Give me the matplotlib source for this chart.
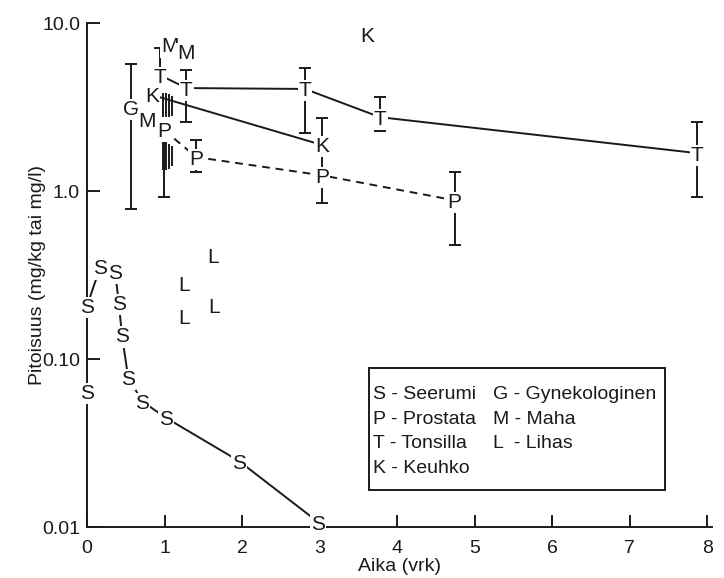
import numpy as np
import matplotlib
matplotlib.use('Agg')
import matplotlib.pyplot as plt
from matplotlib.patches import Rectangle
from matplotlib.transforms import offset_copy

plt.rcParams['font.family'] = ['Liberation Sans', 'DejaVu Sans']

# Seerumi (S)
s_x = [0, 0, 0.17, 0.36, 0.41, 0.45, 0.53, 0.71, 1.02, 1.96, 2.98]
s_y = [0.064, 0.207, 0.353, 0.334, 0.216, 0.139, 0.078, 0.056, 0.0446, 0.0247, 0.0107]

# Tonsilla (T)
t_x = [0.94, 1.28, 2.81, 3.78, 7.87]
t_y = [4.9, 4.1, 4.05, 2.75, 1.68]
t_lo = [4.9, 2.57, 2.21, 2.27, 0.92]
t_hi = [7.1, 5.25, 5.4, 3.63, 2.58]

# Keuhko (K)
k_x = [0.84, 3.03]
k_y = [3.73, 1.88]
k_lo = [3.73, 1.35]
k_hi = [3.73, 2.72]
k_single_x = [3.61]
k_single_y = [8.5]

# Prostata (P)
p_x = [0.99, 1.41, 3.03, 4.74]
p_y = [2.31, 1.59, 1.24, 0.88]
p_lo = [0.92, 1.30, 0.85, 0.48]
p_hi = [2.31, 2.01, 1.24, 1.30]

# Gynekologinen (G)
g_x = [0.57]
g_y = [3.16]
g_lo = [0.78]
g_hi = [5.7]

# Maha (M)
m_x = [0.77, 1.07, 1.28]
m_y = [2.65, 7.4, 6.8]

# Lihas (L)
l_x = [1.25, 1.25, 1.63, 1.64]
l_y = [0.283, 0.178, 0.416, 0.207]

# yksittaiset hajontavalit x=1 kohdalla
bar_x = [0.98, 1.02, 1.06, 1.10, 0.98, 1.02, 1.06, 1.10]
bar_lo = [2.75, 2.75, 2.75, 2.8, 1.33, 1.33, 1.36, 1.4]
bar_hi = [3.83, 3.83, 3.8, 3.7, 1.96, 1.96, 1.9, 1.85]

yticks = [0.01, 0.1, 1, 10]
ytick_labels = ['0.01', '0.10', '1.0', '10.0']
xticks = [0, 1, 2, 3, 4, 5, 6, 7, 8]

legend_left = ['S - Seerumi', 'P - Prostata', 'T - Tonsilla', 'K - Keuhko']
legend_right = ['G - Gynekologinen', 'M - Maha', 'L  - Lihas']

col = '#1a1a1a'
lw = 1.4
fs_letter = 15

fig = plt.figure(figsize=(7.24, 5.78), dpi=100)
ax = fig.add_axes([0.1202, 0.0882, 0.8633, 0.872])
ax.set_yscale('log')
ax.set_xlim(0, 8.06)
ax.set_ylim(0.01, 10)

# lines
ax.plot(s_x, s_y, color=col, lw=lw, zorder=2)
ax.plot(t_x, t_y, color=col, lw=lw, zorder=2)
ax.plot(k_x, k_y, color=col, lw=lw, zorder=2)
ax.plot(p_x, p_y, color=col, lw=lw, ls=(0, (4, 3)), zorder=2)

# error bars
def ebar(x, y, lo, hi):
    y = np.array(y)
    ax.errorbar(x, y, yerr=[y - np.array(lo), np.array(hi) - y], fmt='none',
                ecolor=col, elinewidth=lw, capsize=4, capthick=lw, zorder=2)

ebar(t_x, t_y, t_lo, t_hi)
ebar(k_x, k_y, k_lo, k_hi)
ebar(p_x, p_y, p_lo, p_hi)
ebar(g_x, g_y, g_lo, g_hi)
ax.vlines(bar_x, bar_lo, bar_hi, color=col, lw=lw, zorder=2)

# letter markers, baseline shifted so the capital is centred on the point
letter_tr = offset_copy(ax.transData, fig=fig, y=-fs_letter * 0.36, units='points')

def letters(xs, ys, ch):
    for x, y in zip(xs, ys):
        ax.text(x, y, ch, ha='center', va='baseline', fontsize=fs_letter, color=col,
                zorder=4, clip_on=False, transform=letter_tr,
                bbox=dict(boxstyle='square,pad=0.05', fc='white', ec='none'))

letters(s_x, s_y, 'S')
letters(t_x, t_y, 'T')
letters(k_x, k_y, 'K')
letters(k_single_x, k_single_y, 'K')
letters(p_x, p_y, 'P')
letters(g_x, g_y, 'G')
letters(m_x, m_y, 'M')
letters(l_x, l_y, 'L')

# axes styling
for side in ['top', 'right']:
    ax.spines[side].set_visible(False)
for side in ['left', 'bottom']:
    ax.spines[side].set_linewidth(lw)
    ax.spines[side].set_color(col)
ax.set_yticks(yticks)
ax.set_yticklabels(ytick_labels)
ax.yaxis.set_minor_locator(matplotlib.ticker.NullLocator())
ax.set_xticks(xticks)
ax.tick_params(direction='in', length=9, width=lw, color=col, labelsize=14,
               labelcolor=col)
ax.tick_params(axis='x', pad=9)
ax.tick_params(axis='y', pad=5)
ax.set_xlabel('Aika (vrk)', fontsize=14, color=col, labelpad=1)
ax.set_ylabel('Pitoisuus (mg/kg tai mg/l)', fontsize=14, color=col, labelpad=-2.5)

# legend box
ax.add_patch(Rectangle((0.451, 0.0734), 0.474, 0.2416, transform=ax.transAxes,
                       fill=False, ec=col, lw=lw, zorder=5))
rows = [0.262, 0.214, 0.165, 0.117]
for i, s in enumerate(legend_left):
    ax.text(0.458, rows[i], s, transform=ax.transAxes, ha='left', va='center',
            fontsize=14, color=col, zorder=5)
for i, s in enumerate(legend_right):
    ax.text(0.65, rows[i], s, transform=ax.transAxes, ha='left', va='center',
            fontsize=14, color=col, zorder=5)

fig.savefig('out.png', dpi=100)
